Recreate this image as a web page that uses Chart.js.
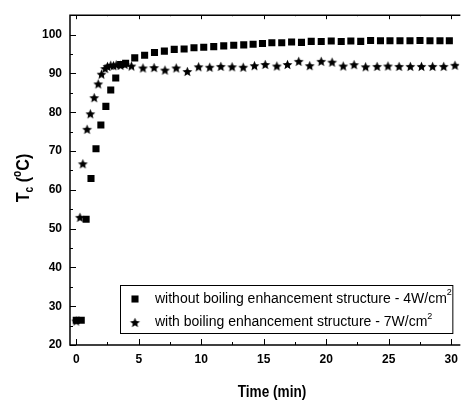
<!DOCTYPE html>
<html>
<head>
<meta charset="utf-8">
<script src="https://cdn.jsdelivr.net/npm/chart.js@4.4.0/dist/chart.umd.min.js"></script>
<style>
  html, body { margin: 0; padding: 0; background: #fff; }
  #wrap { width: 465px; height: 402px; }
</style>
</head>
<body>
<div id="wrap"><canvas id="tcChart" width="465" height="402"></canvas></div>
<script>
// ===== DATA =====
const xTicks = [0, 5, 10, 15, 20, 25, 30];
const yTicks = [20, 30, 40, 50, 60, 70, 80, 90, 100];

// without boiling enhancement structure (4 W/cm2)
const plainTime = [0, 0.4, 0.79, 1.18, 1.58, 1.97, 2.37, 2.76, 3.16, 3.55, 3.95, 4.68, 5.47, 6.26,
  7.05, 7.84, 8.63, 9.42, 10.2, 11.0, 11.8, 12.6, 13.4, 14.15, 14.9, 15.65, 16.44, 17.23, 18.02,
  18.8, 19.6, 20.4, 21.2, 21.97, 22.76, 23.55, 24.34, 25.1, 25.9, 26.7, 27.5, 28.3, 29.1, 29.85];
const plainTemp = [26.4, 26.4, 52.4, 62.9, 70.6, 76.7, 81.5, 85.7, 88.8, 92.3, 92.6, 94.0, 94.7, 95.4,
  95.75, 96.2, 96.3, 96.6, 96.75, 96.9, 97.1, 97.25, 97.35, 97.5, 97.7, 97.9, 97.9, 98.1, 98.0,
  98.25, 98.2, 98.35, 98.2, 98.35, 98.25, 98.5, 98.4, 98.4, 98.4, 98.4, 98.5, 98.4, 98.4, 98.4];

// with boiling enhancement structure (7 W/cm2)
const enhancedTime = [0, 0.3, 0.53, 0.87, 1.13, 1.44, 1.76, 2.02, 2.31, 2.5, 2.76, 2.98, 3.2, 3.55,
  3.89, 4.42, 5.34, 6.23, 7.1, 8.0, 8.89, 9.79, 10.68, 11.57, 12.47, 13.36, 14.26, 15.12, 16.05,
  16.9, 17.8, 18.68, 19.6, 20.47, 21.36, 22.23, 23.15, 24.07, 24.94, 25.83, 26.73, 27.62, 28.51,
  29.4, 30.3];
const enhancedTemp = [26.2, 52.9, 66.7, 75.6, 79.6, 83.75, 87.3, 89.8, 91.25, 91.8, 92.1, 92.0, 92.2, 92.1,
  92.3, 91.9, 91.4, 91.5, 90.85, 91.4, 90.5, 91.7, 91.6, 91.8, 91.7, 91.6, 92.0, 92.3, 91.9,
  92.3, 93.1, 92.0, 93.1, 92.9, 91.9, 92.25, 91.7, 91.8, 91.9, 91.8, 91.8, 91.8, 91.8,
  91.8, 92.1];

const seriesLabels = [
  'without boiling enhancement structure - 4W/cm',
  'with boiling enhancement structure - 7W/cm'
];

const FONT = "'Liberation Sans', Arial, sans-serif";

// filled five-point star used as point marker
function makeStar(r) {
  const s = Math.ceil(r * 2) + 2;
  const c = document.createElement('canvas');
  c.width = c.height = s;
  const g = c.getContext('2d');
  g.translate(s / 2, s / 2 + 0.5);
  g.beginPath();
  for (let i = 0; i < 10; i++) {
    const rad = i % 2 ? r * 0.45 : r;
    const a = -Math.PI / 2 + i * Math.PI / 5;
    g.lineTo(Math.cos(a) * rad, Math.sin(a) * rad);
  }
  g.closePath();
  g.fillStyle = '#000';
  g.fill();
  return c;
}
const starImg = makeStar(5.2);

const toPoints = (xs, ys) => xs.map((v, i) => ({ x: v, y: ys[i] }));

// ===== FRAME + INWARD TICKS =====
const frame = {
  id: 'frame',
  afterDraw(chart) {
    const { ctx, chartArea: a, scales: { x, y } } = chart;
    ctx.save();
    ctx.strokeStyle = '#000';
    ctx.lineWidth = 1.5;
    ctx.beginPath();
    ctx.moveTo(a.right + 1, a.top);
    ctx.lineTo(a.left, a.top);
    ctx.lineTo(a.left, a.bottom);
    ctx.lineTo(a.right + 1, a.bottom);
    ctx.stroke();

    ctx.lineWidth = 1;
    ctx.beginPath();
    for (let v = 0; v <= 30; v += 2.5) {
      const px = Math.round(x.getPixelForValue(v)) + 0.5;
      const len = v % 5 ? 3 : 6;
      ctx.moveTo(px, a.bottom); ctx.lineTo(px, a.bottom - len);
      ctx.moveTo(px, a.top); ctx.lineTo(px, a.top + len - 2);
    }
    for (let v = 20; v <= 100; v += 5) {
      const py = Math.round(y.getPixelForValue(v)) + 0.5;
      const len = v % 10 ? 3 : 6;
      ctx.moveTo(a.left, py); ctx.lineTo(a.left + len, py);
    }
    ctx.stroke();
    ctx.restore();
  }
};

// ===== AXIS TITLES =====
const titles = {
  id: 'titles',
  afterDraw(chart) {
    const { ctx } = chart;
    ctx.save();
    ctx.fillStyle = '#000';
    ctx.textBaseline = 'alphabetic';

    // x title
    ctx.font = 'bold 16px ' + FONT;
    ctx.textAlign = 'center';
    ctx.save();
    ctx.translate(272, 397);
    ctx.scale(0.85, 1);
    ctx.fillText('Time (min)', 0, 0);
    ctx.restore();

    // y title: T_c (°C)
    ctx.translate(29, 178);
    ctx.rotate(-Math.PI / 2);
    ctx.scale(0.85, 1);
    ctx.textAlign = 'left';
    const big = 'bold 19px ' + FONT, small = 'bold 12px ' + FONT;
    const parts = [
      ['T', big, 0], ['c', small, 4], [' (', big, 0], ['o', small, -8], ['C)', big, 0]
    ];
    let w = 0;
    parts.forEach(([t, f]) => { ctx.font = f; w += ctx.measureText(t).width; });
    let cx = -w / 2;
    parts.forEach(([t, f, dy]) => {
      ctx.font = f;
      ctx.fillText(t, cx, dy);
      cx += ctx.measureText(t).width;
    });
    ctx.restore();
  }
};

// ===== LEGEND BOX =====
const legendBox = {
  id: 'legendBox',
  afterDraw(chart) {
    const { ctx, chartArea: a } = chart;
    const left = a.left + 50, right = a.right - 7, top = a.bottom - 60, bottom = a.bottom - 12;
    ctx.save();
    ctx.strokeStyle = '#000';
    ctx.lineWidth = 1;
    ctx.strokeRect(left + 0.5, top + 0.5, right - left, bottom - top);
    ctx.fillStyle = '#000';
    ctx.textBaseline = 'middle';
    const rows = [top + 14, top + 37.5];
    chart.data.datasets.forEach((ds, i) => {
      Chart.helpers.drawPoint(ctx, { pointStyle: ds.pointStyle, radius: ds.pointRadius, rotation: 0 }, left + 15, rows[i]);
      ctx.fillStyle = '#000';
      ctx.font = '14px ' + FONT;
      ctx.textAlign = 'left';
      ctx.fillText(seriesLabels[i], left + 35, rows[i]);
      const tw = ctx.measureText(seriesLabels[i]).width;
      ctx.font = '9px ' + FONT;
      ctx.fillText('2', left + 35 + tw, rows[i] - 6);
    });
    ctx.restore();
  }
};

const tickFont = { family: FONT, size: 12, weight: 'bold' };

new Chart(document.getElementById('tcChart'), {
  type: 'scatter',
  data: {
    datasets: [{
      label: seriesLabels[0],
      data: toPoints(plainTime, plainTemp),
      pointStyle: 'rect',
      pointRadius: 5,
      backgroundColor: '#000',
      borderWidth: 0
    }, {
      label: seriesLabels[1],
      data: toPoints(enhancedTime, enhancedTemp),
      pointStyle: starImg,
      pointRadius: 5,
      backgroundColor: '#000',
      borderWidth: 0
    }]
  },
  options: {
    responsive: false,
    animation: false,
    layout: { padding: { left: 0, right: 0, top: 7, bottom: 0 } },
    plugins: { legend: { display: false }, tooltip: { enabled: false } },
    scales: {
      x: {
        type: 'linear',
        min: -0.5,
        max: 30.65,
        afterBuildTicks: s => { s.ticks = xTicks.map(v => ({ value: v })); },
        afterFit: s => { s.height = 57; },
        grid: { display: false, drawTicks: false },
        border: { display: false },
        ticks: { font: tickFont, color: '#000', padding: 7, autoSkip: false, maxRotation: 0 }
      },
      y: {
        min: 20,
        max: 105,
        afterBuildTicks: s => { s.ticks = yTicks.map(v => ({ value: v })); },
        afterFit: s => { s.width = 70; },
        grid: { display: false, drawTicks: false },
        border: { display: false },
        ticks: { font: tickFont, color: '#000', padding: 8 }
      }
    }
  },
  plugins: [frame, titles, legendBox]
});
</script>
</body>
</html>
